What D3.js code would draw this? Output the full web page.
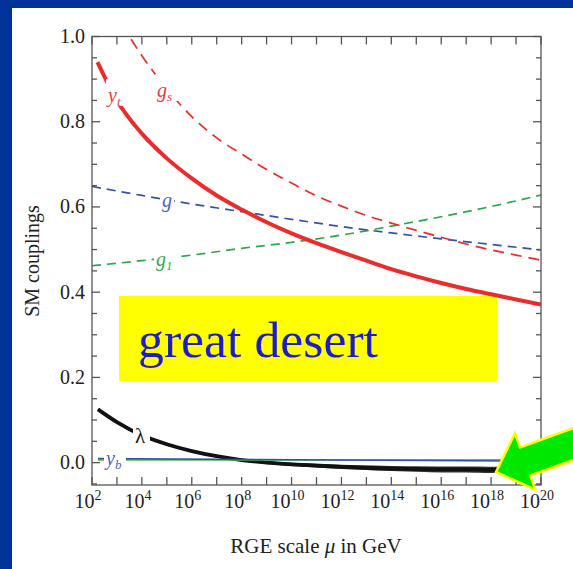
<!DOCTYPE html>
<html><head><meta charset="utf-8">
<script src="https://cdn.jsdelivr.net/npm/d3@7"></script>
<style>
html,body{margin:0;padding:0;background:#003399;}
svg{display:block;}
text{font-family:"Liberation Serif","Times New Roman",serif;}
</style></head>
<body>
<svg id="chart" width="573" height="569"></svg>
<script>
// ---------------- data (log10 of mu in GeV, coupling values) ----------------
const ytExp  = [2.22, 3, 4, 5, 6, 7, 8, 9, 10, 11, 12, 13, 14, 15, 16, 17, 18, 19, 20];
const ytVal  = [0.94, 0.85, 0.772, 0.714, 0.667, 0.627, 0.594, 0.564, 0.538, 0.515, 0.494, 0.474, 0.454, 0.437, 0.4215, 0.4075, 0.395, 0.383, 0.371];

const gsExp  = [3.2, 3.5, 4, 5, 6, 7, 8, 9, 10, 11, 12, 13, 14, 15, 16, 17, 18, 19, 20];
const gsVal  = [1.03, 1.0, 0.955, 0.877, 0.812, 0.762, 0.724, 0.688, 0.656, 0.626, 0.602, 0.58, 0.562, 0.545, 0.529, 0.513, 0.499, 0.487, 0.475];

const gExp   = [2, 4, 6, 8, 10, 12, 14, 16, 18, 20];
const gVal   = [0.648, 0.627, 0.607, 0.589, 0.571, 0.554, 0.539, 0.525, 0.512, 0.499];

const g1Exp  = [2, 4, 6, 8, 10, 12, 14, 16, 18, 20];
const g1Val  = [0.462, 0.474, 0.487, 0.503, 0.517, 0.534, 0.555, 0.577, 0.601, 0.628];

const lamExp = [2.24, 3, 4, 5, 6, 7, 8, 9, 10, 11, 12, 13, 14, 15, 16, 17, 18, 18.2];
const lamVal = [0.125, 0.095, 0.064, 0.043, 0.027, 0.015, 0.006, 0.0, -0.004, -0.007, -0.010, -0.012, -0.014, -0.015, -0.016, -0.016, -0.017, -0.017];
const lamErr = [0, 0, 0, 0, 0, 0, 0, 0.0005, 0.001, 0.0015, 0.002, 0.0025, 0.003, 0.0035, 0.004, 0.0042, 0.0045, 0.0045];

const ybExp  = [2.24, 20];
const ybVal  = [0.0095, 0.0035];
const gYExp  = [2.24, 20];
const gYVal  = [0.006, 0.0065];

const yTickLabels = ["0.0", "0.2", "0.4", "0.6", "0.8", "1.0"];
const yMinorTicks = [-0.05, 0.05, 0.1, 0.15, 0.25, 0.3, 0.35, 0.45, 0.5, 0.55, 0.65, 0.7, 0.75, 0.85, 0.9, 0.95];
const xTickExps   = [2, 3, 4, 5, 6, 7, 8, 9, 10, 11, 12, 13, 14, 15, 16, 17, 18, 19, 20];
const xLabelExps  = [2, 4, 6, 8, 10, 12, 14, 16, 18, 20];

// ---------------- layout ----------------
const svg = d3.select("#chart");
const L = 92, R = 541, T = 36.5, B = 485;
const x = d3.scaleLog().domain([1e2, 1e20]).range([L, R]);
const y = d3.scaleLinear().domain([-0.0525, 1.0]).range([B, T]);

svg.append("rect").attr("x", 12).attr("y", 8).attr("width", 573).attr("height", 569).attr("fill", "#fff");

const defs = svg.append("defs");
defs.append("clipPath").attr("id", "clip").append("rect")
  .attr("x", L).attr("y", T).attr("width", R - L).attr("height", B - T);

const RED = "#ec2b2b", BLUE = "#3552a8", GREEN = "#2aa84a";

// yellow annotation box
svg.append("rect").attr("x", 119).attr("y", 296).attr("width", 378).attr("height", 85).attr("fill", "#ffff00");
svg.append("text").attr("x", 138).attr("y", 357).attr("font-size", 50)
  .attr("textLength", 240).attr("lengthAdjust", "spacingAndGlyphs")
  .attr("fill", "#1c1ccc").text("great desert");

const plot = svg.append("g").attr("clip-path", "url(#clip)");
const line = d3.line().x(d => x(Math.pow(10, d[0]))).y(d => y(d[1])).curve(d3.curveMonotoneX);
const zipS = (ex, v) => ex.map((e, i) => [e, v[i]]);

// lambda band
const band = d3.area().x(d => x(Math.pow(10, d[0]))).y0(d => y(d[1] - d[2])).y1(d => y(d[1] + d[2])).curve(d3.curveMonotoneX);
plot.append("path").datum(lamExp.map((e, i) => [e, lamVal[i], lamErr[i]]))
  .attr("d", band).attr("fill", "#333").attr("stroke", "#333").attr("stroke-width", 2.5);
plot.append("path").datum(zipS(lamExp, lamVal)).attr("d", line)
  .attr("fill", "none").attr("stroke", "#111").attr("stroke-width", 3.8);

plot.append("path").datum(zipS(gYExp, gYVal)).attr("d", line)
  .attr("fill", "none").attr("stroke", "#55bb44").attr("stroke-width", 1.6);
plot.append("path").datum(zipS(ybExp, ybVal)).attr("d", line)
  .attr("fill", "none").attr("stroke", "#3050b0").attr("stroke-width", 1.6);

plot.append("path").datum(zipS(g1Exp, g1Val)).attr("d", line)
  .attr("fill", "none").attr("stroke", GREEN).attr("stroke-width", 1.7).attr("stroke-dasharray", "9,6");
plot.append("path").datum(zipS(gExp, gVal)).attr("d", line)
  .attr("fill", "none").attr("stroke", BLUE).attr("stroke-width", 1.7).attr("stroke-dasharray", "9,6");
plot.append("path").datum(zipS(gsExp, gsVal)).attr("d", line)
  .attr("fill", "none").attr("stroke", RED).attr("stroke-width", 1.7).attr("stroke-dasharray", "11,7");
plot.append("path").datum(zipS(ytExp, ytVal)).attr("d", line)
  .attr("fill", "none").attr("stroke", RED).attr("stroke-width", 4);

// curve labels with white gaps
function label(px, py, w, h, main, sub, color, italic, size) {
  svg.append("rect").attr("x", px - 2).attr("y", py - h + 4).attr("width", w).attr("height", h).attr("fill", "#fff");
  const t = svg.append("text").attr("x", px).attr("y", py).attr("fill", color).attr("font-size", size || 20);
  t.append("tspan").attr("font-style", italic ? "italic" : "normal").text(main);
  if (sub) t.append("tspan").attr("font-size", 13).attr("font-style", "italic").attr("dy", 4).text(sub);
}
label(108, 102, 19, 27, "y", "t", "#ee3b3b", true);
label(157, 97, 23, 27, "g", "s", "#ee3b3b", true);
label(162, 207, 14, 19, "g", null, "#4a66c0", true);
label(156, 266, 24, 19, "g", "1", "#33aa55", true);
label(135, 443, 17, 19, "λ", null, "#111", false, 21);
label(106, 465, 22, 17, "y", "b", "#4a66c0", true);

// frame and ticks
const axG = svg.append("g").attr("stroke", "#555").attr("stroke-width", 1.3);
axG.append("rect").attr("x", L).attr("y", T).attr("width", R - L).attr("height", B - T).attr("fill", "none");
yTickLabels.forEach(s => {
  const v = +s, py = y(v);
  axG.append("line").attr("x1", L).attr("x2", L + 8).attr("y1", py).attr("y2", py);
  axG.append("line").attr("x1", R).attr("x2", R - 8).attr("y1", py).attr("y2", py);
  svg.append("text").attr("x", 85).attr("y", py + 6.5).attr("text-anchor", "end")
    .attr("font-size", 20).attr("fill", "#222").text(s);
});
yMinorTicks.forEach(v => {
  const py = y(v);
  if (py > B || py < T) return;
  axG.append("line").attr("x1", L).attr("x2", L + 5).attr("y1", py).attr("y2", py);
  axG.append("line").attr("x1", R).attr("x2", R - 5).attr("y1", py).attr("y2", py);
});
xTickExps.forEach(e => {
  const px = x(Math.pow(10, e));
  axG.append("line").attr("x1", px).attr("x2", px).attr("y1", B).attr("y2", B - 8);
  axG.append("line").attr("x1", px).attr("x2", px).attr("y1", T).attr("y2", T + 8);
});
xLabelExps.forEach(e => {
  const px = x(Math.pow(10, e));
  const t = svg.append("text").attr("x", px - 4).attr("y", 508).attr("text-anchor", "middle")
    .attr("font-size", 20).attr("fill", "#222");
  t.append("tspan").text("10");
  t.append("tspan").attr("font-size", 14).attr("dy", -8).text(String(e));
});

// axis titles
svg.append("text").attr("transform", "translate(39,261) rotate(-90)").attr("text-anchor", "middle")
  .attr("font-size", 20).attr("fill", "#222").text("SM couplings");
const xt = svg.append("text").attr("x", 316).attr("y", 553).attr("text-anchor", "middle")
  .attr("font-size", 21).attr("fill", "#222");
xt.append("tspan").text("RGE scale ");
xt.append("tspan").attr("font-style", "italic").text("μ");
xt.append("tspan").text(" in GeV");

// green arrow
const tip = [496, 472], d = [0.94, -0.34], n = [0.34, 0.94];
const P = (a, b) => [tip[0] + a * d[0] + b * n[0], tip[1] + a * d[1] + b * n[1]];
const arrowPts = [P(0, 0), P(31, -30), P(31, -15), P(110, -15), P(110, 15), P(31, 15), P(31, 30)];
svg.append("polygon").attr("points", arrowPts.map(p => p.join(",")).join(" "))
  .attr("fill", "#00e800").attr("stroke", "#ffff00").attr("stroke-width", 2.5).attr("stroke-linejoin", "miter");
</script>
</body></html>
